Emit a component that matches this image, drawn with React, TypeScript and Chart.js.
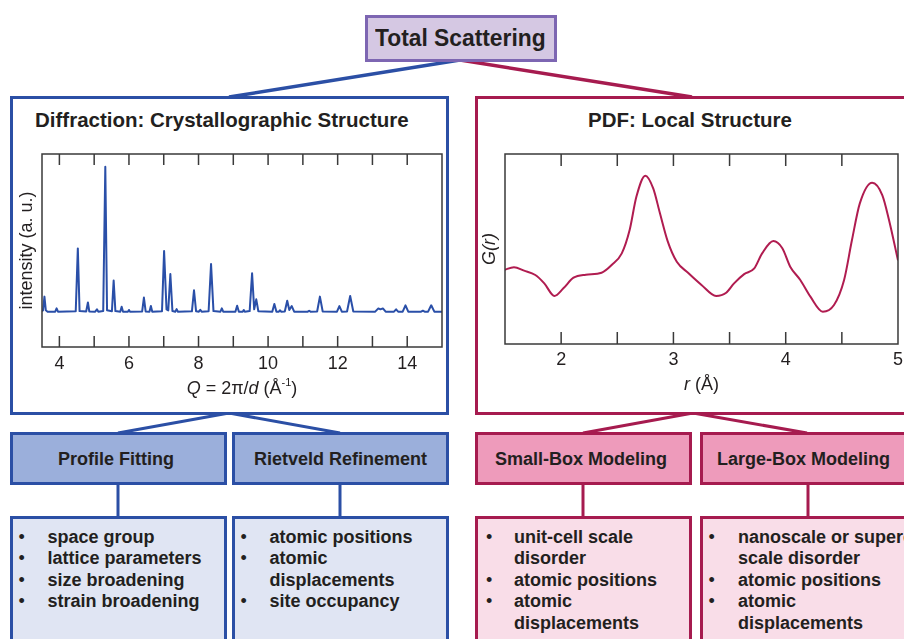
import React, { useEffect, useRef } from 'react';
import { Chart, registerables } from 'chart.js';

Chart.register(...registerables);

const FONT = '"Liberation Sans", Arial, Helvetica, sans-serif';
const TEXT = '#231f20';
const BLUE = '#2b4fa5';
const BLUE_MID = '#9bafdb';
const BLUE_LIGHT = '#e0e5f3';
const RED = '#a61b4f';
const RED_MID = '#ee9bbb';
const RED_LIGHT = '#f9dde8';
const PURPLE = '#7d66b2';
const PURPLE_LIGHT = '#d5c8e3';
const FRAME = '#3a3a3a';
const XRD_LINE = '#2a4fa8';
const PDF_LINE = '#b01c50';

// ---------------- Data ----------------
// Diffraction pattern: [Q (1/Å), intensity (a.u.)]
const xrdPattern: [number, number][] = [
  [3.5, 18.5], [3.53, 19], [3.57, 26.1], [3.61, 19], [3.66, 18.3],
  [3.88, 18.3], [3.92, 20], [3.96, 18.3],
  [4.47, 18.5], [4.53, 51.1], [4.58, 18.6],
  [4.77, 18.4], [4.82, 23.1], [4.86, 18.4],
  [5.03, 18.3], [5.08, 19.5], [5.12, 18.3],
  [5.26, 18.6], [5.32, 93.4], [5.37, 19],
  [5.51, 18.5], [5.56, 34.4], [5.61, 18.6],
  [5.75, 18.3], [5.79, 20.9], [5.83, 18.3],
  [5.97, 18.3], [6.0, 19.2], [6.03, 18.3],
  [6.38, 18.4], [6.43, 25.6], [6.48, 18.4],
  [6.59, 18.3], [6.63, 21.2], [6.67, 18.3],
  [6.95, 18.5], [7.01, 49.7], [7.08, 19.5], [7.13, 19], [7.19, 37.8], [7.25, 18.6],
  [7.33, 18.3], [7.37, 19.6], [7.41, 18.3],
  [7.81, 18.5], [7.87, 29.4], [7.93, 18.5],
  [8.01, 18.3], [8.05, 19.3], [8.09, 18.3],
  [8.29, 18.5], [8.36, 43], [8.43, 18.6],
  [8.63, 18.3], [8.67, 20], [8.71, 18.3],
  [9.06, 18.3], [9.11, 21.4], [9.16, 18.3],
  [9.27, 18.3], [9.3, 19.2], [9.33, 18.3],
  [9.47, 18.6], [9.54, 38.2], [9.6, 19.5], [9.66, 24.7], [9.72, 18.5],
  [10.12, 18.3], [10.18, 22.3], [10.24, 18.3],
  [10.31, 18.3], [10.34, 19], [10.38, 18.3],
  [10.48, 18.4], [10.55, 24], [10.61, 19.2], [10.68, 21.2], [10.75, 18.3],
  [11.14, 18.3], [11.18, 18.8], [11.22, 18.3],
  [11.41, 18.4], [11.49, 26.1], [11.57, 18.4],
  [11.98, 18.3], [12.05, 21.2], [12.12, 18.3],
  [12.27, 18.4], [12.36, 26.4], [12.45, 18.4],
  [13.08, 18.3], [13.17, 20], [13.23, 19.5], [13.3, 20], [13.38, 18.3],
  [13.62, 18.3], [13.68, 19.5], [13.74, 18.3],
  [13.87, 18.3], [13.95, 21.6], [14.03, 18.3],
  [14.4, 18.3], [14.45, 18.8], [14.5, 18.3],
  [14.6, 18.3], [14.69, 21.6], [14.78, 18.3],
  [15.0, 18.3],
];
const xrdTickLabels = [4, 6, 8, 10, 12, 14];

// Pair distribution function: r (Å) and G(r) (a.u.)
const pdfR = [
  1.49, 1.58, 1.67, 1.77, 1.85, 1.94, 2.02, 2.11, 2.22, 2.36, 2.45, 2.54, 2.61, 2.67,
  2.75, 2.82, 2.88, 2.95, 3.03, 3.13, 3.25, 3.38, 3.47, 3.54, 3.63, 3.72, 3.79, 3.89,
  3.97, 4.04, 4.13, 4.22, 4.33, 4.43, 4.52, 4.59, 4.66, 4.77, 4.86, 4.92, 5.0,
];
const pdfG = [
  38.9, 40.4, 38.6, 36.3, 31.9, 25.3, 29.3, 34.9, 36.5, 37.5, 41.6, 47.7, 60, 77.5,
  88.6, 81.9, 68.8, 53.9, 43.3, 37.5, 31.1, 25.3, 27, 31.9, 36.8, 39.8, 47.7, 54.2,
  50.4, 40.7, 33.7, 24.9, 17.0, 20.5, 33.7, 54.7, 74, 84.9, 78.4, 65.3, 44,
];
const pdfTickLabels = [2, 3, 4, 5];

// ---------------- Chart helpers ----------------
type Seg = { t: string; i?: boolean; sup?: boolean };

function makeFramePlugin(cfg: {
  tickLen: number;
  yTitle: string;
  yItalic: boolean;
  yTitleX: number;
  xTitle: Seg[];
  xTitleOffset: number;
}) {
  return {
    id: 'frameDecor',
    afterDraw(chart: any) {
      const { ctx, chartArea: a, scales } = chart;
      const xs = scales.x;
      ctx.save();
      ctx.strokeStyle = FRAME;
      ctx.lineWidth = 1.5;
      ctx.strokeRect(a.left, a.top, a.right - a.left, a.bottom - a.top);
      ctx.beginPath();
      xs.ticks.forEach((t: any) => {
        const px = xs.getPixelForValue(t.value);
        if (px <= a.left + 1 || px >= a.right - 1) return;
        ctx.moveTo(px, a.top);
        ctx.lineTo(px, a.top + cfg.tickLen);
        ctx.moveTo(px, a.bottom);
        ctx.lineTo(px, a.bottom - cfg.tickLen);
      });
      ctx.stroke();

      // y title
      ctx.fillStyle = TEXT;
      ctx.save();
      ctx.translate(cfg.yTitleX, (a.top + a.bottom) / 2);
      ctx.rotate(-Math.PI / 2);
      ctx.textAlign = 'center';
      ctx.textBaseline = 'middle';
      ctx.font = `${cfg.yItalic ? 'italic ' : ''}18px ${FONT}`;
      ctx.fillText(cfg.yTitle, 0, 0);
      ctx.restore();

      // x title (mixed styles)
      const fontFor = (s: Seg) =>
        `${s.i ? 'italic ' : ''}${s.sup ? 11 : 18}px ${FONT}`;
      let total = 0;
      cfg.xTitle.forEach((s) => {
        ctx.font = fontFor(s);
        total += ctx.measureText(s.t).width;
      });
      let x = (a.left + a.right) / 2 - total / 2;
      const y = a.bottom + cfg.xTitleOffset;
      ctx.textAlign = 'left';
      ctx.textBaseline = 'alphabetic';
      cfg.xTitle.forEach((s) => {
        ctx.font = fontFor(s);
        ctx.fillText(s.t, x, s.sup ? y - 8 : y);
        x += ctx.measureText(s.t).width;
      });
      ctx.restore();
    },
  };
}

function XrdChart() {
  const ref = useRef<HTMLCanvasElement>(null);
  useEffect(() => {
    const chart = new Chart(ref.current as HTMLCanvasElement, {
      type: 'line',
      data: {
        datasets: [
          {
            data: xrdPattern.map(([x, y]) => ({ x, y })),
            borderColor: XRD_LINE,
            borderWidth: 2,
            borderJoinStyle: 'round',
            pointRadius: 0,
            tension: 0,
          },
        ],
      },
      options: {
        animation: false,
        responsive: false,
        maintainAspectRatio: false,
        layout: { padding: { left: 0, right: 5, top: 14, bottom: 0 } },
        plugins: { legend: { display: false }, tooltip: { enabled: false } },
        scales: {
          x: {
            type: 'linear',
            min: 3.5,
            max: 15,
            grid: { display: false, drawTicks: false },
            border: { display: false },
            ticks: {
              stepSize: 1,
              includeBounds: false,
              autoSkip: false,
              maxRotation: 0,
              padding: 6,
              color: TEXT,
              font: { family: FONT, size: 18 },
              callback: (v: any) => (xrdTickLabels.includes(Number(v)) ? String(v) : ''),
            },
            afterFit: (s: any) => {
              s.height = 63;
            },
          },
          y: {
            min: 0,
            max: 100,
            grid: { display: false },
            border: { display: false },
            ticks: { display: false },
            afterFit: (s: any) => {
              s.width = 29;
            },
          },
        },
      } as any,
      plugins: [
        makeFramePlugin({
          tickLen: 11,
          yTitle: 'intensity (a. u.)',
          yItalic: false,
          yTitleX: 14,
          xTitle: [
            { t: 'Q', i: true },
            { t: ' = 2π/' },
            { t: 'd', i: true },
            { t: ' (Å' },
            { t: '-1', sup: true },
            { t: ')' },
          ],
          xTitleOffset: 47,
        }),
      ],
    });
    return () => chart.destroy();
  }, []);
  return (
    <canvas
      ref={ref}
      width={435}
      height={270}
      style={{ position: 'absolute', left: 13, top: 140, width: 435, height: 270 }}
    />
  );
}

function PdfChart() {
  const ref = useRef<HTMLCanvasElement>(null);
  useEffect(() => {
    const chart = new Chart(ref.current as HTMLCanvasElement, {
      type: 'line',
      data: {
        datasets: [
          {
            data: pdfR.map((r, i) => ({ x: r, y: pdfG[i] })),
            borderColor: PDF_LINE,
            borderWidth: 2,
            pointRadius: 0,
            cubicInterpolationMode: 'monotone',
          },
        ],
      },
      options: {
        animation: false,
        responsive: false,
        maintainAspectRatio: false,
        layout: { padding: { left: 0, right: 8, top: 14, bottom: 0 } },
        plugins: { legend: { display: false }, tooltip: { enabled: false } },
        scales: {
          x: {
            type: 'linear',
            min: 1.5,
            max: 5,
            grid: { display: false, drawTicks: false },
            border: { display: false },
            ticks: {
              stepSize: 0.5,
              autoSkip: false,
              maxRotation: 0,
              padding: 5,
              color: TEXT,
              font: { family: FONT, size: 18 },
              callback: (v: any) => (pdfTickLabels.includes(Number(v)) ? String(v) : ''),
            },
            afterFit: (s: any) => {
              s.height = 66;
            },
          },
          y: {
            min: 0,
            max: 100,
            grid: { display: false },
            border: { display: false },
            ticks: { display: false },
            afterFit: (s: any) => {
              s.width = 27;
            },
          },
        },
      } as any,
      plugins: [
        makeFramePlugin({
          tickLen: 12,
          yTitle: 'G(r)',
          yItalic: true,
          yTitleX: 12,
          xTitle: [{ t: 'r', i: true }, { t: ' (Å)' }],
          xTitleOffset: 46,
        }),
      ],
    });
    return () => chart.destroy();
  }, []);
  return (
    <canvas
      ref={ref}
      width={430}
      height={270}
      style={{ position: 'absolute', left: 478, top: 140, width: 430, height: 270 }}
    />
  );
}

// ---------------- Diagram pieces ----------------
function Box(p: {
  left: number;
  top: number;
  width: number;
  height: number;
  border: string;
  fill: string;
  bw?: number;
}) {
  return (
    <div
      style={{
        position: 'absolute',
        left: p.left,
        top: p.top,
        width: p.width,
        height: p.height,
        boxSizing: 'border-box',
        border: `${p.bw ?? 3}px solid ${p.border}`,
        background: p.fill,
      }}
    />
  );
}

function Label(p: { text: string; left: number; top: number; size: number; scaleX?: number }) {
  return (
    <div
      style={{
        position: 'absolute',
        left: p.left,
        top: p.top,
        fontSize: p.size,
        lineHeight: `${p.size}px`,
        fontWeight: 'bold',
        color: TEXT,
        whiteSpace: 'nowrap',
        fontFamily: FONT,
        transform: p.scaleX ? `scaleX(${p.scaleX})` : undefined,
        transformOrigin: 'left top',
      }}
    >
      {p.text}
    </div>
  );
}

function Bullets(p: { items: string[][]; bulletX: number; textX: number; top: number }) {
  const rows: React.ReactNode[] = [];
  let line = 0;
  p.items.forEach((item, k) => {
    item.forEach((ln, j) => {
      const top = p.top + line * 21.6;
      if (j === 0) {
        rows.push(
          <div
            key={`b${k}`}
            style={{ position: 'absolute', left: p.bulletX, top, fontSize: 18, lineHeight: '21.5px', color: TEXT, fontFamily: FONT }}
          >
            •
          </div>
        );
      }
      rows.push(
        <div
          key={`t${k}-${j}`}
          style={{
            position: 'absolute',
            left: p.textX,
            top,
            fontSize: 18,
            lineHeight: '21.5px',
            fontWeight: 'bold',
            color: TEXT,
            whiteSpace: 'nowrap',
            fontFamily: FONT,
          }}
        >
          {ln}
        </div>
      );
      line++;
    });
  });
  return <>{rows}</>;
}

const profileItems = [['space group'], ['lattice parameters'], ['size broadening'], ['strain broadening']];
const rietveldItems = [['atomic positions'], ['atomic', 'displacements'], ['site occupancy']];
const smallBoxItems = [['unit-cell scale', 'disorder'], ['atomic positions'], ['atomic', 'displacements']];
const largeBoxItems = [['nanoscale or supercell', 'scale disorder'], ['atomic positions'], ['atomic', 'displacements']];

export default function App() {
  return (
    <div
      style={{
        position: 'fixed',
        left: 0,
        top: 0,
        width: 904,
        height: 639,
        overflow: 'hidden',
        background: '#ffffff',
        fontFamily: FONT,
      }}
    >
      <svg width={904} height={639} style={{ position: 'absolute', left: 0, top: 0 }}>
        <line x1={460} y1={60} x2={229} y2={97} stroke={BLUE} strokeWidth={3.5} />
        <line x1={460} y1={60} x2={692} y2={97} stroke={RED} strokeWidth={3.5} />
        <line x1={229} y1={413} x2={118} y2={433} stroke={BLUE} strokeWidth={3} />
        <line x1={229} y1={413} x2={340} y2={433} stroke={BLUE} strokeWidth={3} />
        <line x1={693} y1={413} x2={583} y2={433} stroke={RED} strokeWidth={3} />
        <line x1={693} y1={413} x2={807} y2={433} stroke={RED} strokeWidth={3} />
        <line x1={118} y1={483} x2={118} y2={518} stroke={BLUE} strokeWidth={3} />
        <line x1={340} y1={483} x2={340} y2={518} stroke={BLUE} strokeWidth={3} />
        <line x1={583} y1={483} x2={583} y2={518} stroke={RED} strokeWidth={3} />
        <line x1={808} y1={483} x2={808} y2={518} stroke={RED} strokeWidth={3} />
      </svg>

      {/* Top box */}
      <Box left={365} top={15} width={192} height={47} border={PURPLE} fill={PURPLE_LIGHT} />
      <Label text="Total Scattering" left={375} top={26} size={24} scaleX={0.95} />

      {/* Big boxes */}
      <Box left={10} top={96} width={439} height={319} border={BLUE} fill="#ffffff" />
      <Box left={475} top={96} width={445} height={319} border={RED} fill="#ffffff" />
      <Label text="Diffraction: Crystallographic Structure" left={35} top={110} size={20.5} />
      <Label text="PDF: Local Structure" left={588} top={110} size={20.5} />

      <XrdChart />
      <PdfChart />

      {/* Method boxes */}
      <Box left={10} top={432} width={217} height={53} border={BLUE} fill={BLUE_MID} />
      <Box left={232} top={432} width={217} height={53} border={BLUE} fill={BLUE_MID} />
      <Box left={475} top={432} width={217} height={53} border={RED} fill={RED_MID} />
      <Box left={700} top={432} width={217} height={53} border={RED} fill={RED_MID} />
      <Label text="Profile Fitting" left={58} top={450} size={18} />
      <Label text="Rietveld Refinement" left={254} top={450} size={18} />
      <Label text="Small-Box Modeling" left={495} top={450} size={18} />
      <Label text="Large-Box Modeling" left={717} top={450} size={18} />

      {/* Detail boxes */}
      <Box left={10} top={516} width={217} height={140} border={BLUE} fill={BLUE_LIGHT} />
      <Box left={232} top={516} width={217} height={140} border={BLUE} fill={BLUE_LIGHT} />
      <Box left={475} top={516} width={217} height={140} border={RED} fill={RED_LIGHT} />
      <Box left={700} top={516} width={217} height={140} border={RED} fill={RED_LIGHT} />

      <Bullets items={profileItems} bulletX={18.5} textX={47.5} top={526.5} />
      <Bullets items={rietveldItems} bulletX={240.5} textX={269.5} top={526.5} />
      <Bullets items={smallBoxItems} bulletX={486} textX={514} top={526.5} />
      <Bullets items={largeBoxItems} bulletX={708.5} textX={738} top={526.5} />
    </div>
  );
}
